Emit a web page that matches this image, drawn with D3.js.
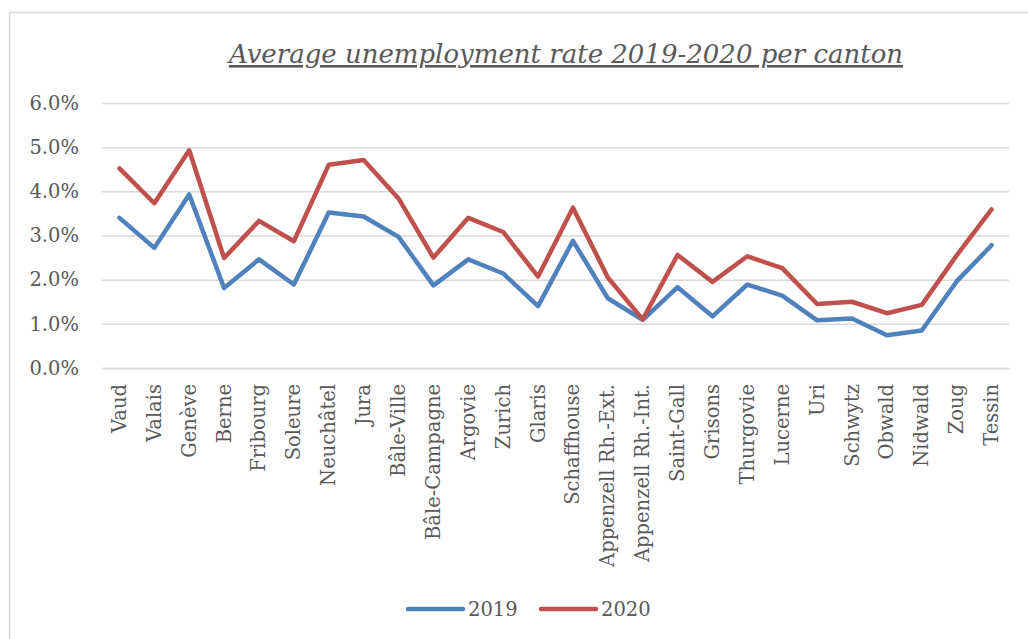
<!DOCTYPE html>
<html><head><meta charset="utf-8">
<script src="https://cdn.jsdelivr.net/npm/d3@7"></script>
<style>body{margin:0;background:#fff;} svg{display:block;}</style>
</head><body>
<svg id="c" width="1028" height="639"></svg>
<script>
const cantons = ["Vaud","Valais","Genève","Berne","Fribourg","Soleure","Neuchâtel","Jura","Bâle-Ville","Bâle-Campagne","Argovie","Zurich","Glaris","Schaffhouse","Appenzell Rh.-Ext.","Appenzell Rh.-Int.","Saint-Gall","Grisons","Thurgovie","Lucerne","Uri","Schwytz","Obwald","Nidwald","Zoug","Tessin"];
const rate2019 = [3.40,2.72,3.93,1.81,2.46,1.89,3.52,3.43,2.97,1.87,2.46,2.14,1.40,2.88,1.58,1.09,1.83,1.17,1.89,1.64,1.08,1.12,0.74,0.85,1.96,2.78];
const rate2020 = [4.52,3.73,4.93,2.49,3.33,2.87,4.60,4.71,3.84,2.50,3.40,3.08,2.07,3.63,2.05,1.10,2.56,1.95,2.53,2.26,1.45,1.50,1.24,1.43,2.55,3.59];
const seriesNames = ["2019","2020"];
const seriesColors = ["#4F81BD","#C0504D"];
const yTicks = [0,1,2,3,4,5,6];
const title = "Average unemployment rate 2019-2020 per canton";

const svg = d3.select("#c");
const font = "'DejaVu Serif', serif";
const grey = "#595959";
const m = {l:102, r:1009, t:103, b:368};

svg.append("rect").attr("x",9.5).attr("y",12.5).attr("width",1030).attr("height",640)
  .attr("fill","none").attr("stroke","#d9d9d9").attr("stroke-width",1.5);

const x = d3.scaleBand().domain(cantons).range([m.l,m.r]);
const y = d3.scaleLinear().domain([0,6]).range([m.b,m.t]);

const ya = svg.append("g").attr("transform",`translate(${m.l},0)`)
  .call(d3.axisLeft(y).tickValues(yTicks).tickSize(-(m.r-m.l)).tickPadding(23).tickFormat(d=>d.toFixed(1)+"%"));
ya.select(".domain").remove();
ya.selectAll("line").attr("stroke","#d9d9d9").attr("stroke-width",1.5);
ya.selectAll("text").attr("font-family",font).attr("font-size",19.5).attr("fill",grey);

const xa = svg.append("g").attr("transform",`translate(0,${m.b})`)
  .call(d3.axisBottom(x).tickSize(0).tickPadding(0));
xa.select(".domain").attr("stroke","#d9d9d9").attr("stroke-width",1.5);
xa.selectAll("text").attr("font-family",font).attr("font-size",19.5).attr("fill",grey)
  .attr("text-anchor","end").attr("y",0).attr("dy",0)
  .attr("transform","translate(0,16) rotate(-90)").attr("dominant-baseline","central");

const line = d3.line().x((d,i)=>x(cantons[i])+x.bandwidth()/2).y(d=>y(d));
[rate2019,rate2020].forEach((s,k)=>{
  svg.append("path").datum(s).attr("d",line).attr("fill","none")
    .attr("stroke",seriesColors[k]).attr("stroke-width",4.5)
    .attr("stroke-linejoin","round").attr("stroke-linecap","round");
});

const t = svg.append("text").attr("x",566).attr("y",63).attr("text-anchor","middle")
  .attr("font-family",font).attr("font-style","italic").attr("font-size",26)
  .attr("fill",grey).attr("text-decoration","underline").text(title);

const lg = svg.append("g");
const lx = [408,541];
seriesNames.forEach((n,k)=>{
  lg.append("line").attr("x1",lx[k]).attr("x2",lx[k]+55).attr("y1",609).attr("y2",609)
    .attr("stroke",seriesColors[k]).attr("stroke-width",4.5).attr("stroke-linecap","round");
  lg.append("text").attr("x",lx[k]+60).attr("y",609).attr("dy","0.35em")
    .attr("font-family",font).attr("font-size",19.5).attr("fill",grey).text(n);
});
</script>
</body></html>
